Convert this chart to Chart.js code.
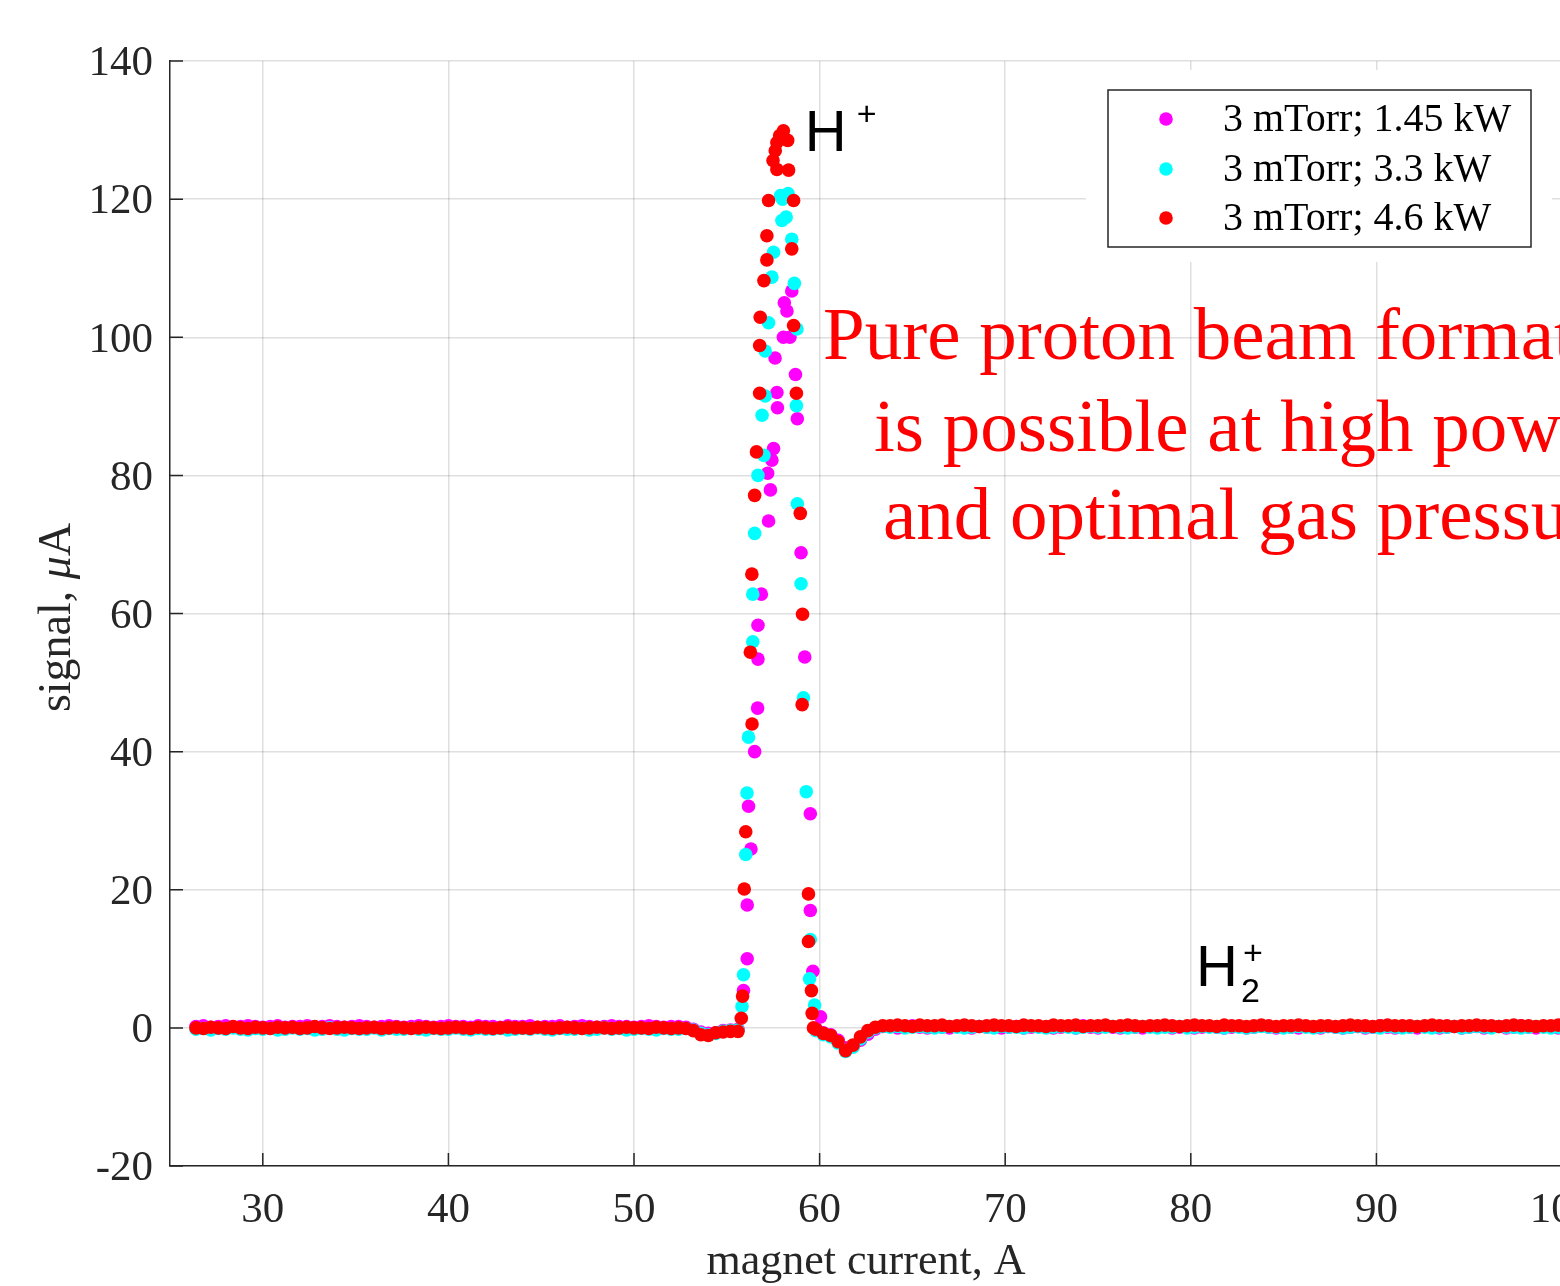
<!DOCTYPE html>
<html>
<head>
<meta charset="utf-8">
<script src="https://cdn.jsdelivr.net/npm/chart.js@4.4.1/dist/chart.umd.min.js"></script>
<style>
  html, body { margin: 0; padding: 0; background: #fff; overflow: hidden; }
  #wrap { width: 1660px; height: 1286px; }
</style>
</head>
<body>
<div id="wrap"><canvas id="chart" width="1660" height="1286"></canvas></div>
<script>
const seriesLabels = ['3 mTorr; 1.45 kW', '3 mTorr; 3.3 kW', '3 mTorr; 4.6 kW'];
const seriesColors = ['#ff00ff', '#00ffff', '#ff0000'];

const xTicks = [30, 40, 50, 60, 70, 80, 90, 100];
const yTicks = [-20, 0, 20, 40, 60, 80, 100, 120, 140];

// baseline currents before the H+ peak, A
const baseXLow = [
  26.4, 26.8, 27.2, 27.6, 28.0, 28.4, 28.8, 29.2, 29.6, 30.0,
  30.4, 30.8, 31.2, 31.6, 32.0, 32.4, 32.8, 33.2, 33.6, 34.0,
  34.4, 34.8, 35.2, 35.6, 36.0, 36.4, 36.8, 37.2, 37.6, 38.0,
  38.4, 38.8, 39.2, 39.6, 40.0, 40.4, 40.8, 41.2, 41.6, 42.0,
  42.4, 42.8, 43.2, 43.6, 44.0, 44.4, 44.8, 45.2, 45.6, 46.0,
  46.4, 46.8, 47.2, 47.6, 48.0, 48.4, 48.8, 49.2, 49.6, 50.0,
  50.4, 50.8, 51.2, 51.6, 52.0, 52.4,
  52.8, 53.2, 53.6, 54.0, 54.4, 54.8, 55.2, 55.6
];
// baseline currents after the H+ peak, A
const baseXHigh = [
  59.8, 60.2, 60.6, 61.0, 61.4, 61.8, 62.2, 62.6, 63.0, 63.4,
  63.8, 64.2, 64.6, 65.0, 65.4, 65.8, 66.2, 66.6, 67.0, 67.4,
  67.8, 68.2, 68.6, 69.0, 69.4, 69.8, 70.2, 70.6, 71.0, 71.4,
  71.8, 72.2, 72.6, 73.0, 73.4, 73.8, 74.2, 74.6, 75.0, 75.4,
  75.8, 76.2, 76.6, 77.0, 77.4, 77.8, 78.2, 78.6, 79.0, 79.4,
  79.8, 80.2, 80.6, 81.0, 81.4, 81.8, 82.2, 82.6, 83.0, 83.4,
  83.8, 84.2, 84.6, 85.0, 85.4, 85.8, 86.2, 86.6, 87.0, 87.4,
  87.8, 88.2, 88.6, 89.0, 89.4, 89.8, 90.2, 90.6, 91.0, 91.4,
  91.8, 92.2, 92.6, 93.0, 93.4, 93.8, 94.2, 94.6, 95.0, 95.4,
  95.8, 96.2, 96.6, 97.0, 97.4, 97.8, 98.2, 98.6, 99.0, 99.4,
  99.8, 100.2
];

// 1.45 kW
const magentaLow = [
  0.2, 0.3, 0.1, 0.2, 0.3, 0.1, 0.2, 0.3, 0.2, 0.1,
  0.2, 0.3, 0.1, 0.2, 0.2, 0.3, 0.1, 0.2, 0.3, 0.2,
  0.1, 0.2, 0.3, 0.2, 0.1, 0.2, 0.3, 0.2, 0.1, 0.2,
  0.3, 0.2, 0.1, 0.2, 0.3, 0.2, 0.2, 0.1, 0.3, 0.2,
  0.2, 0.1, 0.3, 0.2, 0.2, 0.3, 0.1, 0.2, 0.2, 0.3,
  0.1, 0.2, 0.3, 0.2, 0.1, 0.2, 0.3, 0.2, 0.2, 0.1,
  0.2, 0.3, 0.2, 0.1, 0.2, 0.2,
  0.1, -0.2, -0.6, -0.8, -0.7, -0.4, -0.3, -0.2
];
const magentaPeakX = [55.9, 56.1, 56.1, 56.17, 56.3, 56.5, 56.66, 56.68, 56.68, 56.86,
  57.2, 57.25, 57.35, 57.43, 57.52, 57.6, 57.7, 57.73, 58.05, 58.1,
  58.24, 58.4, 58.5, 58.7, 58.8, 59.0, 59.2, 59.5, 59.5, 59.64, 60.05];
const magentaPeakY = [5.4, 10.0, 17.8, 32.1, 25.9, 40.0, 46.3, 53.4, 58.3, 62.8,
  80.3, 73.4, 77.9, 82.2, 83.9, 97.0, 92.0, 89.8, 100.0, 105.0,
  103.8, 100.0, 106.7, 94.6, 88.2, 68.8, 53.7, 31.0, 17.0, 8.2, 1.6];
const magentaHigh = [
  -0.1, -0.7, -1.0, -1.8, -2.9, -2.7, -1.8, -0.9, -0.2, 0.2,
  0.2, 0.0, 0.1, 0.3, 0.1, 0.0, 0.2, 0.1, 0.0, 0.2,
  0.1, 0.0, 0.2, 0.1, 0.3, 0.0, 0.1, 0.2, 0.0, 0.1,
  0.2, 0.1, 0.0, 0.1, 0.2, 0.0, 0.3, 0.1, 0.0, 0.2,
  0.1, 0.0, 0.2, 0.1, 0.0, 0.2, 0.1, 0.3, 0.0, 0.1,
  0.2, 0.0, 0.1, 0.2, 0.1, 0.0, 0.1, 0.2, 0.0, 0.1,
  0.3, 0.1, 0.0, 0.2, 0.1, 0.0, 0.2, 0.1, 0.0, 0.2,
  0.1, 0.0, 0.1, 0.2, 0.0, 0.1, 0.3, 0.1, 0.0, 0.2,
  0.1, 0.0, 0.2, 0.1, 0.0, 0.1, 0.2, 0.0, 0.1, 0.2,
  0.0, 0.1, 0.2, 0.0, 0.1, 0.3, 0.1, 0.0, 0.2, 0.1,
  0.0, 0.1
];

// 3.3 kW
const cyanLow = [
  -0.2, -0.1, -0.3, -0.1, -0.2, 0.0, -0.2, -0.3, -0.1, -0.2,
  -0.1, -0.3, -0.2, 0.0, -0.2, -0.1, -0.3, -0.2, 0.0, -0.2,
  -0.3, -0.1, -0.2, -0.2, 0.0, -0.3, -0.1, -0.2, -0.2, -0.1,
  -0.2, -0.3, -0.1, -0.2, -0.2, 0.0, -0.2, -0.3, -0.1, -0.2,
  -0.2, -0.1, -0.3, -0.2, -0.1, -0.2, 0.0, -0.2, -0.3, -0.1,
  -0.2, -0.2, -0.1, -0.3, -0.2, 0.0, -0.2, -0.1, -0.3, -0.2,
  -0.1, -0.2, -0.3, -0.1, -0.2, -0.2,
  -0.1, -0.3, -0.8, -1.0, -0.8, -0.5, -0.4, -0.3
];
const cyanPeakX = [55.82, 55.9, 56.02, 56.09, 56.17, 56.4, 56.4, 56.5, 56.68, 56.9,
  57.0, 57.07, 57.07, 57.25, 57.43, 57.52, 57.9, 58.0, 57.97, 58.2,
  58.3, 58.5, 58.64, 58.78, 58.75, 58.8, 59.0, 59.13, 59.28, 59.5,
  59.46, 59.73];
const cyanPeakY = [3.1, 7.7, 25.1, 34.0, 42.1, 55.9, 62.8, 71.6, 80.0, 88.7,
  82.9, 91.5, 98.0, 102.1, 108.7, 112.3, 120.5, 120.0, 116.9, 117.4,
  120.8, 114.2, 107.8, 101.2, 90.1, 75.9, 64.3, 47.8, 34.2, 12.8,
  7.1, 3.3];
const cyanHigh = [
  -0.4, -1.0, -1.3, -2.2, -3.4, -2.8, -1.6, -0.6, 0.0, 0.2,
  0.1, 0.2, 0.0, 0.1, 0.2, 0.1, 0.0, 0.1, 0.2, 0.1,
  0.0, 0.1, 0.2, 0.1, 0.0, 0.2, 0.1, 0.1, 0.0, 0.2,
  0.1, 0.0, 0.1, 0.2, 0.1, 0.0, 0.1, 0.2, 0.1, 0.1,
  0.2, 0.1, 0.0, 0.1, 0.2, 0.1, 0.0, 0.1, 0.1, 0.2,
  0.0, 0.1, 0.2, 0.1, 0.1, 0.0, 0.2, 0.1, 0.0, 0.1,
  0.2, 0.1, 0.1, 0.0, 0.1, 0.2, 0.1, 0.0, 0.1, 0.2,
  0.1, 0.0, 0.1, 0.2, 0.1, 0.1, 0.0, 0.2, 0.1, 0.0,
  0.1, 0.2, 0.1, 0.0, 0.1, 0.1, 0.2, 0.0, 0.1, 0.2,
  0.1, 0.0, 0.2, 0.1, 0.1, 0.0, 0.1, 0.2, 0.1, 0.0,
  0.1, 0.2
];

// 4.6 kW
const redLow = [
  0.0, -0.1, 0.1, 0.0, -0.1, 0.2, 0.0, -0.1, 0.1, 0.0,
  -0.1, 0.1, 0.0, 0.1, -0.1, 0.0, 0.2, 0.0, -0.1, 0.0,
  0.1, 0.0, -0.1, 0.0, 0.1, -0.1, 0.0, 0.1, 0.0, -0.1,
  0.0, 0.1, 0.0, -0.1, 0.0, 0.1, 0.0, -0.1, 0.1, 0.0,
  -0.1, 0.0, 0.1, 0.0, 0.0, -0.1, 0.1, 0.0, -0.1, 0.0,
  0.1, 0.0, -0.1, 0.0, 0.1, 0.0, -0.1, 0.0, 0.1, 0.0,
  0.0, -0.1, 0.1, 0.0, -0.1, 0.0,
  -0.1, -0.4, -1.0, -1.1, -0.7, -0.6, -0.5, -0.5
];
const redPeakX = [55.78, 55.85, 55.94, 56.02, 56.27, 56.35, 56.36, 56.5, 56.6, 56.77,
  56.77, 56.8, 57.0, 57.16, 57.16, 57.25, 57.49, 57.61, 57.7, 57.7,
  57.85, 58.05, 58.28, 58.33, 58.6, 58.5, 58.6, 58.75, 58.96, 59.06,
  59.08, 59.4, 59.4, 59.56, 59.6, 59.67];
const redPeakY = [1.4, 4.6, 20.1, 28.4, 54.4, 65.7, 44.0, 77.1, 83.4, 91.9,
  98.8, 102.9, 108.2, 111.2, 114.7, 119.8, 125.6, 127.0, 128.2, 124.3,
  129.2, 129.9, 128.5, 124.2, 119.8, 112.8, 101.7, 91.9, 74.5, 46.8,
  59.9, 19.4, 12.5, 5.4, 2.1, 0.0];
const redHigh = [
  -0.2, -0.8, -1.1, -2.0, -3.3, -2.5, -1.3, -0.4, 0.1, 0.3,
  0.3, 0.4, 0.3, 0.2, 0.4, 0.3, 0.3, 0.4, 0.2, 0.3,
  0.4, 0.3, 0.2, 0.3, 0.4, 0.3, 0.3, 0.2, 0.4, 0.3,
  0.3, 0.2, 0.4, 0.3, 0.3, 0.4, 0.2, 0.3, 0.3, 0.4,
  0.2, 0.3, 0.4, 0.3, 0.2, 0.3, 0.3, 0.4, 0.3, 0.2,
  0.3, 0.4, 0.3, 0.3, 0.2, 0.4, 0.3, 0.3, 0.2, 0.3,
  0.4, 0.3, 0.2, 0.3, 0.3, 0.4, 0.3, 0.2, 0.3, 0.3,
  0.2, 0.3, 0.4, 0.3, 0.3, 0.2, 0.3, 0.4, 0.3, 0.3,
  0.3, 0.2, 0.3, 0.4, 0.3, 0.3, 0.2, 0.3, 0.3, 0.4,
  0.3, 0.3, 0.2, 0.3, 0.4, 0.3, 0.3, 0.2, 0.3, 0.3,
  0.4, 0.3
];

// annotation texts (data coordinates of their left/baseline)
const noteLines = [
  { text: 'Pure proton beam formation', x: 60.18, y: 96.9 },
  { text: 'is possible at high power', x: 62.93, y: 83.6 },
  { text: 'and optimal gas pressure', x: 63.42, y: 70.8 }
];
const peakLabels = [
  { main: 'H', sup: '+', sub: '', x: 59.2, y: 127.0 },
  { main: 'H', sup: '+', sub: '2', x: 80.28, y: 6.1 }
];

const axisColor = '#262626';
const serif = '"Liberation Serif", "Times New Roman", serif';
const sans = '"Liberation Sans", Arial, sans-serif';

function toPoints(xs, ys) {
    return xs.map((x, i) => ({ x: x, y: ys[i] }));
}

const decorPlugin = {
    id: 'decor',
    afterDraw(chart) {
        const { ctx, chartArea: a, scales } = chart;
        const x = scales.x, y = scales.y;
        ctx.save();

        // inward tick marks
        ctx.strokeStyle = axisColor;
        ctx.lineWidth = 1.5;
        ctx.beginPath();
        xTicks.forEach(v => {
            const px = x.getPixelForValue(v);
            ctx.moveTo(px, a.bottom);
            ctx.lineTo(px, a.bottom - 13);
        });
        yTicks.forEach(v => {
            const py = y.getPixelForValue(v);
            ctx.moveTo(a.left, py);
            ctx.lineTo(a.left + 13, py);
        });
        ctx.stroke();

        // y title: signal, μA (μ in italic)
        ctx.save();
        ctx.translate(70, (a.top + a.bottom) / 2 + 4);
        ctx.rotate(-Math.PI / 2);
        ctx.fillStyle = axisColor;
        ctx.textBaseline = 'alphabetic';
        ctx.textAlign = 'left';
        const parts = [
            { t: 'signal, ', f: '46px ' + serif },
            { t: 'μ', f: 'italic 46px ' + serif },
            { t: 'A', f: '46px ' + serif }
        ];
        let total = 0;
        parts.forEach(p => { ctx.font = p.f; p.w = ctx.measureText(p.t).width; total += p.w; });
        let cx = -total / 2;
        parts.forEach(p => { ctx.font = p.f; ctx.fillText(p.t, cx, 0); cx += p.w; });
        ctx.restore();

        // H+ and H2+ labels
        ctx.fillStyle = '#000';
        ctx.textAlign = 'left';
        ctx.textBaseline = 'alphabetic';
        peakLabels.forEach(l => {
            const px = x.getPixelForValue(l.x);
            const py = y.getPixelForValue(l.y);
            ctx.font = '58px ' + sans;
            ctx.fillText(l.main, px, py);
            ctx.font = '34px ' + sans;
            if (l.sub) {
                ctx.fillText(l.sub, px + 45, py + 16);
                ctx.fillText(l.sup, px + 47, py - 22);
            } else {
                ctx.fillText(l.sup, px + 52, py - 26);
            }
        });

        // red note
        ctx.fillStyle = '#ff0000';
        ctx.font = '75px ' + serif;
        noteLines.forEach(n => {
            ctx.fillText(n.text, x.getPixelForValue(n.x), y.getPixelForValue(n.y));
        });

        // legend
        const lg = { left: a.right - 454, top: a.top + 29, w: 423, h: 157 };
        ctx.fillStyle = '#fff';
        ctx.fillRect(lg.left - 22, lg.top - 20, lg.w + 43, lg.h + 35);
        ctx.strokeStyle = axisColor;
        ctx.lineWidth = 1.5;
        ctx.strokeRect(lg.left, lg.top, lg.w, lg.h);
        ctx.font = '40px ' + serif;
        ctx.textBaseline = 'middle';
        const rows = [29, 79, 128];
        seriesLabels.forEach((lab, i) => {
            const ry = lg.top + rows[i];
            ctx.fillStyle = seriesColors[i];
            ctx.beginPath();
            ctx.arc(lg.left + 58, ry, 6.8, 0, Math.PI * 2);
            ctx.fill();
            ctx.fillStyle = '#000';
            ctx.fillText(lab, lg.left + 115, ry + 1);
        });

        ctx.restore();
    }
};

const ctx = document.getElementById('chart').getContext('2d');

new Chart(ctx, {
    type: 'scatter',
    data: {
        datasets: [
            {
                label: seriesLabels[0],
                data: [].concat(toPoints(baseXLow, magentaLow), toPoints(magentaPeakX, magentaPeakY), toPoints(baseXHigh, magentaHigh)),
                backgroundColor: seriesColors[0],
                order: 3
            },
            {
                label: seriesLabels[1],
                data: [].concat(toPoints(baseXLow, cyanLow), toPoints(cyanPeakX, cyanPeakY), toPoints(baseXHigh, cyanHigh)),
                backgroundColor: seriesColors[1],
                order: 2
            },
            {
                label: seriesLabels[2],
                data: [].concat(toPoints(baseXLow, redLow), toPoints(redPeakX, redPeakY), toPoints(baseXHigh, redHigh)),
                backgroundColor: seriesColors[2],
                order: 1
            }
        ]
    },
    options: {
        responsive: false,
        animation: false,
        events: [],
        devicePixelRatio: 1,
        elements: {
            point: { radius: 6.8, borderWidth: 0, hoverRadius: 6.8 }
        },
        layout: { padding: { left: 0, top: 61, right: 98, bottom: 0 } },
        plugins: {
            legend: { display: false },
            tooltip: { enabled: false }
        },
        scales: {
            x: {
                type: 'linear',
                min: 25,
                max: 100,
                afterFit: s => { s.height = 120; },
                ticks: {
                    stepSize: 10,
                    includeBounds: false,
                    padding: 19,
                    color: axisColor,
                    maxRotation: 0,
                    font: { family: serif, size: 43 }
                },
                grid: { color: 'rgba(38,38,38,0.15)', lineWidth: 1.5, drawTicks: false },
                border: { display: true, color: axisColor, width: 1.5 },
                title: {
                    display: true,
                    text: 'magnet current, A',
                    color: axisColor,
                    padding: 0,
                    font: { family: serif, size: 44, lineHeight: 1.05 }
                }
            },
            y: {
                min: -20,
                max: 140,
                afterFit: s => { s.width = 170; },
                ticks: {
                    stepSize: 20,
                    padding: 17,
                    labelOffset: 3,
                    color: axisColor,
                    font: { family: serif, size: 43 }
                },
                grid: { color: 'rgba(38,38,38,0.15)', lineWidth: 1.5, drawTicks: false },
                border: { display: true, color: axisColor, width: 1.5 }
            }
        }
    },
    plugins: [decorPlugin]
});
</script>
</body>
</html>
